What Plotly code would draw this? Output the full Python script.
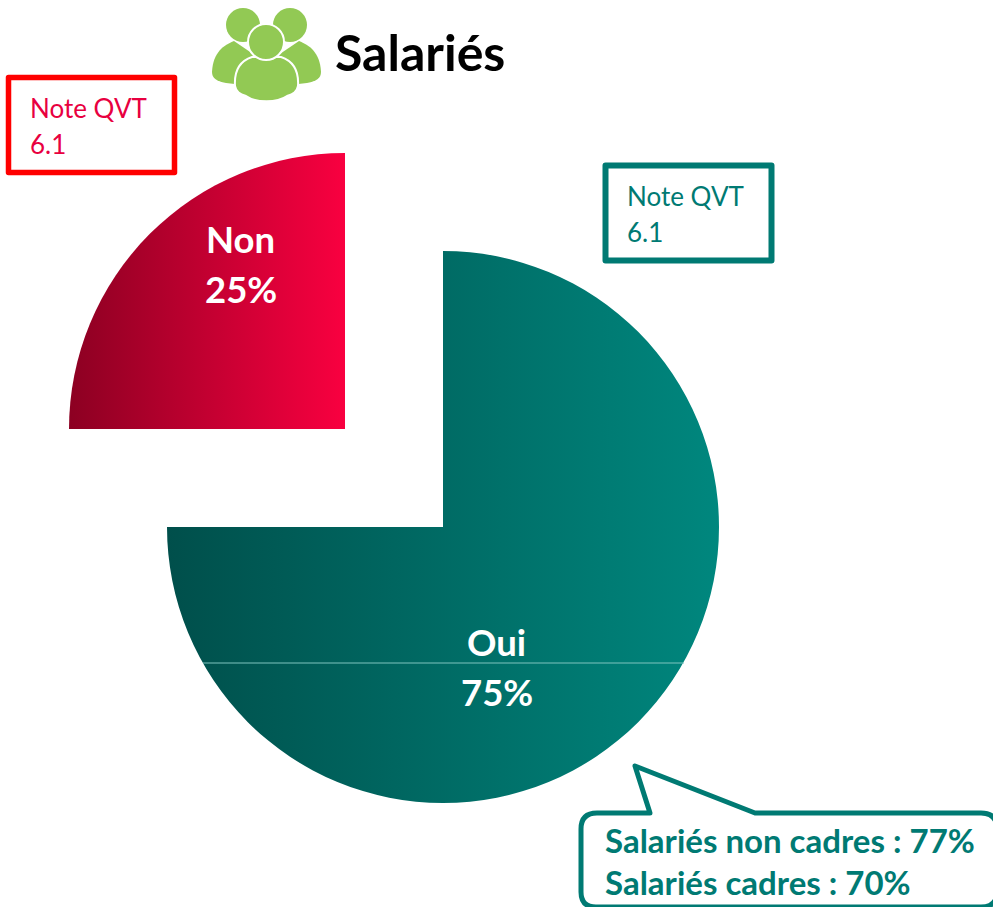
import plotly.graph_objects as go

# ---- data ----
categories = ["Oui", "Non"]
values = [75, 25]
title_text = "Salariés"
note_label = "Note QVT"
note_oui = "6.1"
note_non = "6.1"
callout_lines = ["Salariés non cadres : 77%", "Salariés cadres : 70%"]

W, H = 993, 907
TEAL = "#007a73"
CRIMSON = "#e8003f"
RED = "#ff0000"
GREEN = "#92c954"
FONT = "Lato"


def dom(x0, y0, x1, y1):
    return dict(x=[x0 / W, x1 / W], y=[(H - y1) / H, (H - y0) / H])


CLEAR = "rgba(0,0,0,0)"
pie_common = dict(
    labels=categories, values=values, sort=False, direction="clockwise",
    rotation=0, textinfo="none", hoverinfo="skip", showlegend=False,
)
fig = go.Figure()
fig.add_trace(go.Pie(domain=dom(167, 251, 719, 803),
                     marker=dict(colors=[TEAL, CLEAR], line=dict(width=0)), **pie_common))
fig.add_trace(go.Pie(domain=dom(69, 153, 621, 705),
                     marker=dict(colors=[CLEAR, CRIMSON], line=dict(width=0)), **pie_common))


def txt(x, y, s, size, color, bold=False, anchor="left"):
    return dict(x=x, y=y, xref="x", yref="y", text=f"<b>{s}</b>" if bold else s,
                showarrow=False, xanchor=anchor, yanchor="middle",
                font=dict(family=FONT, size=size, color=color))


annotations = [
    txt(333, 52, title_text, 50, "#000000", True),
    txt(27.5, 108, note_label, 26, CRIMSON),
    txt(27.5, 144, note_non, 26, CRIMSON),
    txt(624.5, 196, note_label, 26, TEAL),
    txt(624.5, 232, note_oui, 26, TEAL),
    txt(240.5, 239, categories[1], 36.5, "#ffffff", True, "center"),
    txt(240.5, 289, f"{values[1]}%", 36.5, "#ffffff", True, "center"),
    txt(496, 642, categories[0], 36.5, "#ffffff", True, "center"),
    txt(496.5, 692, f"{values[0]}%", 36.5, "#ffffff", True, "center"),
    txt(602.5, 840, callout_lines[0], 33, TEAL, True),
    txt(602.5, 882, callout_lines[1], 33, TEAL, True),
]


def rect(x0, y0, x1, y1, color, w):
    return dict(type="rect", xref="x", yref="y", x0=x0, y0=y0, x1=x1, y1=y1,
                line=dict(color=color, width=w), fillcolor="rgba(0,0,0,0)")


def path(d, fill, line=None, w=0):
    return dict(type="path", xref="x", yref="y", path=d, fillcolor=fill,
                line=dict(color=line or fill, width=w))


def circle(cx, cy, r, fill, line=None, w=0):
    return dict(type="circle", xref="x", yref="y", x0=cx - r, y0=cy - r, x1=cx + r, y1=cy + r,
                fillcolor=fill, line=dict(color=line or fill, width=w))


shapes = [
    rect(8.5, 77.5, 174.5, 172.5, RED, 5.5),
    rect(605.5, 165.5, 771.5, 260.5, TEAL, 6),
    dict(type="line", xref="x", yref="y", x0=203, x1=684, y0=663, y1=663,
         line=dict(color="#7fc4bf", width=1), layer="above"),
    path("M 650 813 L 635 766 L 755 813 L 981 813 Q 997 813 997 829 L 997 892 "
         "Q 997 907 981 907 L 596 907 Q 581 907 581 892 L 581 829 Q 581 813 597 813 Z",
         "rgba(0,0,0,0)", TEAL, 5),
    # people icon
    circle(243, 25, 17, GREEN),
    circle(290, 25, 17, GREEN),
    path("M 234 41 C 224 45 213 52 212 72 C 212 78 216 81 226 83 L 252 86 L 262 60 Z", GREEN),
    path("M 299 41 C 309 45 320 52 321 72 C 321 78 317 81 307 83 L 281 86 L 271 60 Z", GREEN),
    path("M 252 57 C 240 61 234 70 235 86 C 236 92 240 94 246 96 C 256 103 277 103 287 96 "
         "C 293 94 297 92 298 86 C 299 70 293 61 281 57 Z", GREEN, "#ffffff", 2),
    circle(266, 42, 18, GREEN, "#ffffff", 2),
]

fig.update_layout(
    width=W, height=H, margin=dict(l=0, r=0, t=0, b=0),
    paper_bgcolor="#ffffff", plot_bgcolor="rgba(0,0,0,0)",
    xaxis=dict(range=[0, W], visible=False, fixedrange=True),
    yaxis=dict(range=[H, 0], visible=False, fixedrange=True),
    annotations=annotations, shapes=shapes,
)

# page without margin; left-to-right gradient fills on the two drawn slices
post = """
document.body.style.margin = '0';
document.documentElement.style.overflow = 'hidden';
var gd = document.getElementById('{plot_id}');
function paint() {
  var svg = gd.querySelector('svg.main-svg');
  var NS = 'http://www.w3.org/2000/svg';
  var defs = document.createElementNS(NS, 'defs');
  function grad(id, a, b) {
    var g = document.createElementNS(NS, 'linearGradient');
    g.setAttribute('id', id);
    g.setAttribute('x1', '0'); g.setAttribute('x2', '1');
    g.setAttribute('y1', '0'); g.setAttribute('y2', '0');
    [[0, a], [1, b]].forEach(function (s) {
      var st = document.createElementNS(NS, 'stop');
      st.setAttribute('offset', s[0]); st.setAttribute('stop-color', s[1]);
      g.appendChild(st);
    });
    defs.appendChild(g);
  }
  grad('gradTeal', '#004f4b', '#00877e');
  grad('gradRed', '#8c0022', '#f90040');
  svg.insertBefore(defs, svg.firstChild);
  var traces = gd.querySelectorAll('.pielayer .trace');
  traces[0].querySelectorAll('.slice path.surface')[0].style.fill = 'url(#gradTeal)';
  traces[1].querySelectorAll('.slice path.surface')[1].style.fill = 'url(#gradRed)';
  gd.querySelectorAll('.shapelayer path').forEach(function (p) {
    p.style.strokeLinejoin = 'round';
  });
}
paint();
"""

fig.write_html("out.html", post_script=post, config=dict(displayModeBar=False),
               default_width=W, default_height=H)
